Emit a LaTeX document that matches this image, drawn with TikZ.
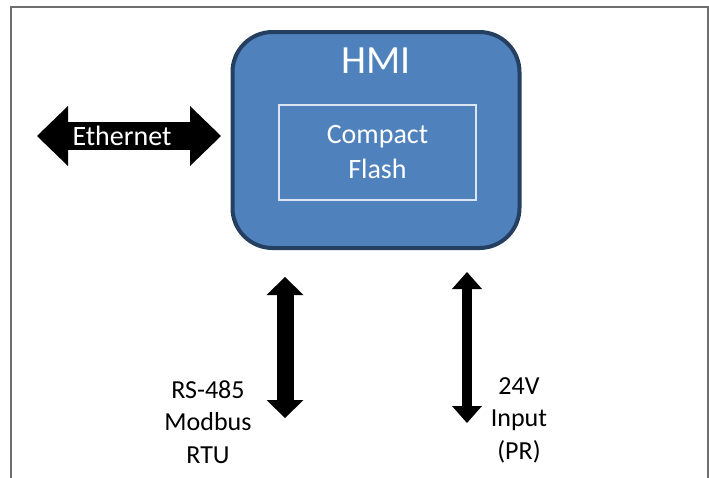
\documentclass[tikz,border=0pt]{standalone}
\usepackage{fontspec}
\setmainfont{Carlito}
\usetikzlibrary{arrows.meta}
\definecolor{hmiblue}{HTML}{4F81BD}
\definecolor{hmiedge}{HTML}{243F60}
\definecolor{cfedge}{HTML}{DCE6F2}
\definecolor{framegray}{HTML}{6E6E6E}
\tikzset{
  hmibox/.style={draw=hmiedge, fill=hmiblue, line width=2pt, rounded corners=20pt,
    minimum width=143.5pt, minimum height=108pt},
  cfbox/.style={draw=cfedge, line width=0.75pt, minimum width=98.5pt, minimum height=47.5pt,
    text=white, align=center, font=\fontsize{14}{17.5}\selectfont},
  portlabel/.style={align=center, font=\fontsize{13}{16.25}\selectfont},
  fatlink/.style n args={3}{line width=#1,
    {Triangle[length=#2, width=#3, line width=0pt]}-{Triangle[length=#2, width=#3, line width=0pt]}}
}
\begin{document}
\begin{tikzpicture}[x=0.5pt,y=-0.5pt]
\useasboundingbox (0,0) rectangle (709,478);
\draw[framegray, line width=1pt] (11,478) -- (11,7) -- (708,7) -- (708,478);
% HMI unit
\node[hmibox] (hmi) at (376,140) {};
\node[text=white, font=\fontsize{20}{24}\selectfont, anchor=base] (hmiT) at (376,73) {HMI};
\node[cfbox] (cf) at (377.5,152.5) {Compact\\Flash};
% Ethernet
\coordinate (ethL) at (37,136);
\coordinate (ethR) at (221,136);
\draw[fatlink={14pt}{15.5pt}{30pt}] (ethL) -- (ethR);
\node[text=white, font=\fontsize{14}{17.5}\selectfont] (eth) at (122,136) {Ethernet};
% RS-485
\coordinate (rsT) at (285,277);
\coordinate (rsB) at (285,418);
\draw[fatlink={8.5pt}{9pt}{18.5pt}] (rsT) -- (rsB);
\node[portlabel] (rs) at (208,422) {RS-485\\Modbus\\RTU};
% 24V
\coordinate (pwT) at (467,272);
\coordinate (pwB) at (467,423);
\draw[fatlink={5pt}{8.5pt}{15pt}] (pwT) -- (pwB);
\node[portlabel] (pw) at (519,420) {24V\\Input\\(PR)};
\end{tikzpicture}
\end{document}
